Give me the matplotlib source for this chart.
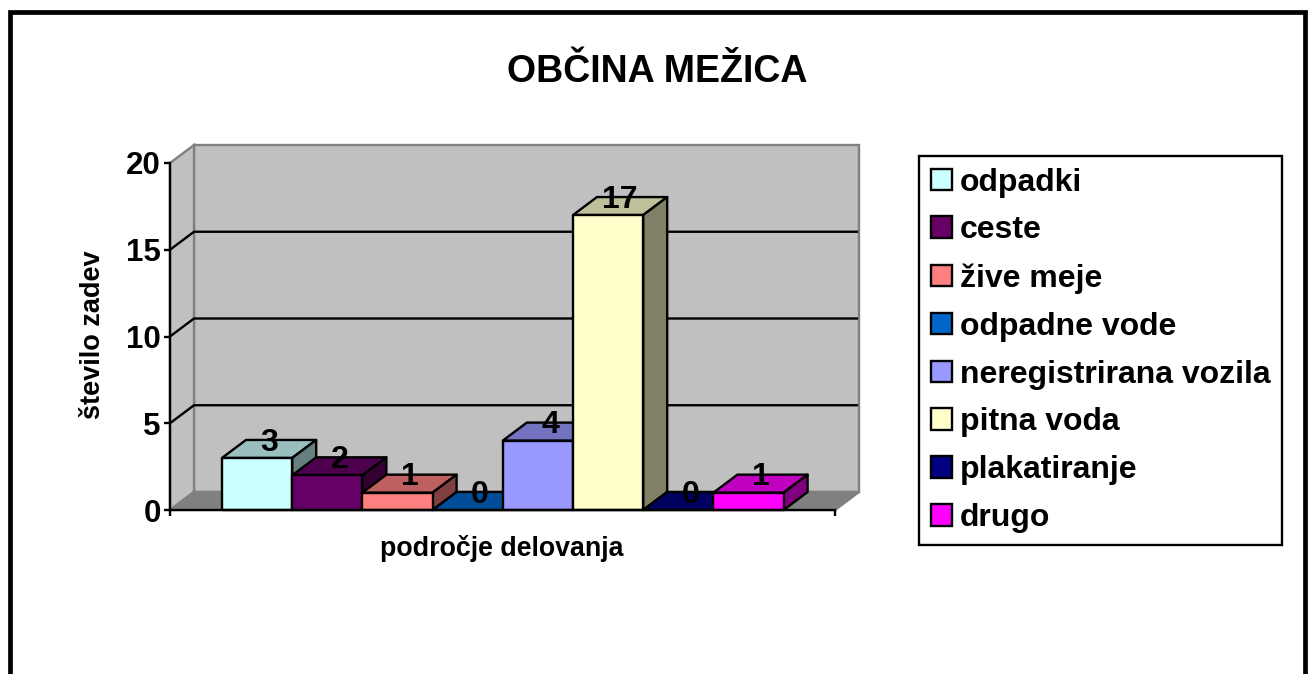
import matplotlib
matplotlib.use('Agg')
import matplotlib.pyplot as plt
from matplotlib.patches import Patch, Rectangle

plt.rcParams['font.family'] = ['Liberation Sans', 'DejaVu Sans']
plt.rcParams['font.weight'] = 'bold'

categories = ['odpadki', 'ceste', 'žive meje', 'odpadne vode',
              'neregistrirana vozila', 'pitna voda', 'plakatiranje', 'drugo']
values = [3, 2, 1, 0, 4, 17, 0, 1]
colors = ['#CCFFFF', '#660066', '#FF8080', '#0066CC',
          '#9999FF', '#FFFFCC', '#000080', '#FF00FF']
yticks = [0, 5, 10, 15, 20]

W, H = 1309, 674
dx = 24/70.2   # depth of the 3d box, in bar widths
dy = 18/17.35  # depth in value units
x0 = -52/70.2
x1 = 613/70.2
lw = 1.7


def shade(c, f):
    r, g, b = matplotlib.colors.to_rgb(c)
    return (r*f, g*f, b*f)


fig = plt.figure(figsize=(W/100, H/100), dpi=100, facecolor='white')
ax = fig.add_axes([170/W, 1-510/H, 665/W, 347/H])
ax.set_xlim(x0, x1)
ax.set_ylim(0, 20)
ax.patch.set_visible(False)

# walls and floor
ax.fill([x0+dx, x1+dx, x1+dx, x0+dx], [dy, dy, 20+dy, 20+dy], fc='#C0C0C0', ec='#808080', lw=lw, clip_on=False, zorder=1)
ax.fill([x0, x0+dx, x0+dx, x0], [0, dy, 20+dy, 20], fc='#C0C0C0', ec='#808080', lw=lw, clip_on=False, zorder=1)
ax.fill([x0, x1, x1+dx, x0+dx], [0, 0, dy, dy], fc='#808080', ec='#808080', lw=lw, clip_on=False, zorder=1)

for t in yticks[1:-1]:
    ax.plot([x0, x0+dx, x1+dx-0.03], [t, t+dy, t+dy], color='black', lw=lw, clip_on=False, zorder=2)

# bars, left to right so the next one covers the side of the previous
for i, (v, c) in enumerate(zip(values, colors)):
    z = 3+i
    ax.fill([i, i+1, i+1+dx, i+dx], [v, v, v+dy, v+dy], fc=shade(c, .75), ec='black', lw=lw, joinstyle='round', clip_on=False, zorder=z)
    if v > 0:
        ax.fill([i+1, i+1+dx, i+1+dx, i+1], [0, dy, v+dy, v], fc=shade(c, .5), ec='black', lw=lw, joinstyle='round', clip_on=False, zorder=z)
        ax.fill([i, i+1, i+1, i], [0, 0, v, v], fc=c, ec='black', lw=lw, joinstyle='round', clip_on=False, zorder=z)

for i, v in enumerate(values):
    ax.annotate(str(v), (i+.5+dx/2, v+dy), xytext=(0, -2), textcoords='offset points',
                ha='center', va='center', fontsize=23, annotation_clip=False, zorder=20)

for s in ['top', 'right']:
    ax.spines[s].set_visible(False)
for s in ['left', 'bottom']:
    ax.spines[s].set_linewidth(lw)
    ax.spines[s].set_zorder(15)
ax.set_yticks(yticks)
ax.set_xticks([x0, x1])
ax.set_xticklabels([])
ax.tick_params(axis='y', labelsize=22.5, length=4.5, width=lw, pad=2)
ax.tick_params(axis='x', length=4.5, width=lw)

fig.text(92.5/W, 1-335/H, 'število zadev', rotation=90, ha='center', va='center', fontsize=19.5)
fig.text(502/W, 1-549/H, 'področje delovanja', ha='center', va='center', fontsize=19.3)
fig.text(657/W, 1-72/H, 'OBČINA MEŽICA', ha='center', va='center', fontsize=27)

handles = [Patch(fc=c, ec='black', lw=lw) for c in colors]
leg = fig.legend(handles, categories, loc='upper left', bbox_to_anchor=(919/W, 1-156/H), borderaxespad=0,
                 fontsize=23, fancybox=False, framealpha=1, edgecolor='black', labelspacing=0.56,
                 handlelength=0.66, handleheight=0.66, handletextpad=0.25, borderpad=0.36)
leg.get_frame().set_linewidth(lw)

# outer border, its lower edge is cut off by the picture
fig.add_artist(Rectangle((9.5/W, -0.1), 1295.5/W, 1.1-12/H, transform=fig.transFigure, fill=False, ec='black', lw=3.4))

fig.savefig('out.png', dpi=100)
